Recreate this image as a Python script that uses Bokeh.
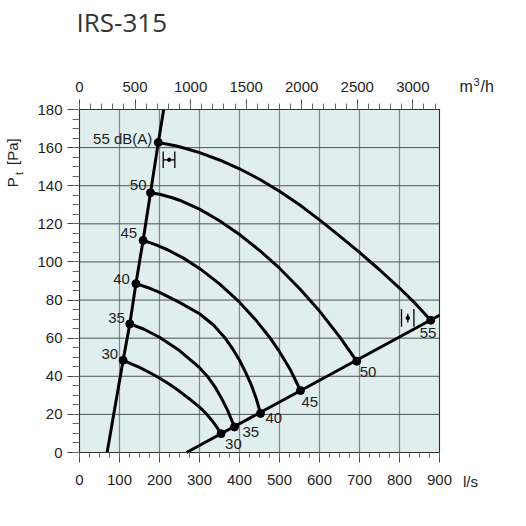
import math
from bokeh.plotting import figure
from bokeh.models import Range1d, LinearAxis, FixedTicker, Label, ColumnDataSource
from bokeh.embed import file_html
from bokeh.resources import INLINE
from bokeh.core.properties import value

# ---------------- data ----------------
title_text = "IRS-315"
levels = ["30", "35", "40", "45", "50", "55"]

q30 = [109, 150, 175, 200, 225, 250, 275, 300, 315, 330, 342, 354]
p30 = [48.4, 44.7, 42.0, 39.1, 35.8, 32.1, 28.1, 23.8, 20.8, 17.1, 13.7, 9.9]

q35 = [125.8, 160, 200, 250, 300, 320, 340, 355, 370, 387.5]
p35 = [67.5, 64.8, 60.5, 53.5, 44.5, 39.9, 34.0, 28.5, 22.2, 13.4]

q40 = [141, 170, 200, 250, 300, 335, 365, 385, 400, 415, 430, 442, 452.5]
p40 = [88.6, 86.6, 84.0, 78.8, 72.8, 66.9, 59.8, 53.7, 48.4, 42.2, 35.2, 28.2, 20.5]

q45 = [159, 190, 220, 260, 300, 350, 400, 440, 475, 500, 527.5, 552.5]
p45 = [111.3, 109.1, 106.4, 102.0, 96.6, 88.5, 78.9, 69.7, 60.5, 52.9, 43.3, 32.5]

q50 = [177.5, 200, 230, 250, 300, 350, 400, 450, 500, 550, 600, 650, 693]
p50 = [136.3, 135.5, 133.8, 132.4, 127.7, 121.6, 114.4, 106.1, 96.7, 86.1, 74.2, 60.8, 47.9]

q55 = [197, 240, 270, 300, 350, 400, 450, 500, 550, 600, 650, 700, 750, 800, 840, 878]
p55 = [162.7, 161.0, 159.3, 157.4, 153.5, 148.9, 143.4, 137.1, 130.0, 122.1, 113.7, 105.0, 95.9, 86.3, 78.1, 69.4]

curves_q = [q30, q35, q40, q45, q50, q55]
curves_p = [p30, p35, p40, p45, p50, p55]

sys_left_q = [69, 109, 125.8, 141, 159, 177.5, 197, 210.5]
sys_left_p = [0, 48.4, 67.5, 88.6, 111.3, 136.3, 162.7, 180]
sys_right_q = [267.5, 900]
sys_right_p = [0, 72]

x_ticks = [0, 100, 200, 300, 400, 500, 600, 700, 800, 900]
y_ticks = [0, 20, 40, 60, 80, 100, 120, 140, 160, 180]
top_ticks = [0, 500, 1000, 1500, 2000, 2500, 3000]
m3h_per_ls = 3.6

left_label_text = ["30", "35", "40", "45", "50", "55 dB(A)"]
left_dx = [-5, -5, -6, -6, -4, -6]
left_dy = [-6, -6, -5, -7, -8, -4]
right_dx = [4, 8, 5, 1, 3, -11]
right_dy = [10, 5, 5, 11, 11, 13]

FONT = "Liberation Sans"
BG = "#e1eeee"
TXT = "#1e1e1e"
W = H = 520

# pixel geometry of the chart area inside the canvas
PX_L, PX_R, PX_T, PX_B = 79.0, 439.0, 109.0, 452.0
xs = (PX_R - PX_L) / (x_ticks[-1] - x_ticks[0])
ys = (PX_B - PX_T) / (y_ticks[-1] - y_ticks[0])
x_rng = Range1d(-PX_L / xs, (W - PX_L) / xs)
y_rng = Range1d(-(H - PX_B) / ys, PX_B / ys)

p = figure(width=W, height=H, x_range=x_rng, y_range=y_rng,
           x_axis_type=None, y_axis_type=None,
           output_backend="svg", toolbar_location=None, min_border=0,
           background_fill_color="white", border_fill_color="white")
p.outline_line_color = None

# chart background and grid
p.quad(left=[x_ticks[0]], right=[x_ticks[-1]], bottom=[y_ticks[0]], top=[y_ticks[-1]],
       fill_color=BG, line_color=None)
p.segment(x0=x_ticks, y0=[y_ticks[0]] * len(x_ticks), x1=x_ticks, y1=[y_ticks[-1]] * len(x_ticks),
          line_color="#7c8888", line_width=1.2)
p.segment(x0=[x_ticks[0]] * len(y_ticks), y0=y_ticks, x1=[x_ticks[-1]] * len(y_ticks), y1=y_ticks,
          line_color="#4c5454", line_width=1)
p.quad(left=[x_ticks[0]], right=[x_ticks[-1]], bottom=[y_ticks[0]], top=[y_ticks[-1]],
       fill_color=None, line_color="#333333", line_width=1)

def style_axis(ax, major_out, minor_out, standoff):
    ax.major_tick_in = 0
    ax.minor_tick_in = 0
    ax.major_tick_out = major_out
    ax.minor_tick_out = minor_out
    ax.axis_line_color = "#333333"
    ax.major_tick_line_color = "#444444"
    ax.minor_tick_line_color = "#666666"
    ax.major_label_text_font = FONT
    ax.major_label_text_font_size = "15px"
    ax.major_label_text_color = TXT
    ax.major_label_standoff = standoff

bottom = LinearAxis(ticker=FixedTicker(ticks=x_ticks, minor_ticks=list(range(0, 901, 25))),
                    fixed_location=y_ticks[0], bounds=(x_ticks[0], x_ticks[-1]))
style_axis(bottom, 10, 5, 12)
p.add_layout(bottom, "below")

left = LinearAxis(ticker=FixedTicker(ticks=y_ticks, minor_ticks=list(range(0, 181, 5))),
                  fixed_location=x_ticks[0], bounds=(y_ticks[0], y_ticks[-1]))
style_axis(left, 12, 7, 5)
p.add_layout(left, "left")

p.extra_x_ranges = {"m3h": Range1d(x_rng.start * m3h_per_ls, x_rng.end * m3h_per_ls)}
top = LinearAxis(x_range_name="m3h",
                 ticker=FixedTicker(ticks=top_ticks, minor_ticks=list(range(0, 3201, 100))),
                 fixed_location=y_ticks[-1], bounds=(0, x_ticks[-1] * m3h_per_ls))
style_axis(top, 10, 6, 8)
p.add_layout(top, "above")

# system lines
p.line(sys_left_q, sys_left_p, line_color="black", line_width=3)
p.line(sys_right_q, sys_right_p, line_color="black", line_width=3)

# iso-dB curves
for q, pr in zip(curves_q, curves_p):
    p.line(q, pr, line_color="black", line_width=3, line_join="round")

start_q = [c[0] for c in curves_q]
start_p = [c[0] for c in curves_p]
end_q = [c[-1] for c in curves_q]
end_p = [c[-1] for c in curves_p]
p.scatter(start_q + end_q, start_p + end_p, size=8, color="black")

left_src = ColumnDataSource(dict(x=start_q, y=start_p, t=left_label_text, dx=left_dx, dy=left_dy))
p.text(x="x", y="y", text="t", x_offset="dx", y_offset="dy", source=left_src,
       text_font=value(FONT), text_font_size="15px", text_color=TXT,
       text_align="right", text_baseline="middle")

right_src = ColumnDataSource(dict(x=end_q, y=end_p, t=levels, dx=right_dx, dy=right_dy))
p.text(x="x", y="y", text="t", x_offset="dx", y_offset="dy", source=right_src,
       text_font=value(FONT), text_font_size="15px", text_color=TXT,
       text_align="left", text_baseline="middle")

# small tolerance markers
mk_x0 = [209.3, 238.3, 209.3, 805, 836, 820.8]
mk_y0 = [158.0, 158.0, 153.6, 75.3, 75.3, 72.8]
mk_x1 = [209.3, 238.3, 238.3, 805, 836, 820.8]
mk_y1 = [149.3, 149.3, 153.6, 66.0, 66.0, 68.2]
p.segment(mk_x0, mk_y0, mk_x1, mk_y1, line_color="black", line_width=1.3)
p.scatter([224.3, 820.8], [153.6, 70.6], size=3.5, color="black")

# title and unit texts (canvas pixel positions converted to data space)
def add_text(cx, cy, text, size="15px", angle=0.0, font=FONT, color=TXT):
    p.add_layout(Label(x=(cx - PX_L) / xs, y=(PX_B - cy) / ys, text=text, angle=angle,
                       text_font=font, text_font_size=size, text_color=color,
                       text_align="left", text_baseline="alphabetic"))

add_text(76, 21, title_text, size="26px", font="Open Sans", color="#333333")
add_text(11.5, 186.7, "P", angle=math.pi / 2)
add_text(18, 174.5, "t", size="11px", angle=math.pi / 2)
add_text(11.5, 164.5, "[Pa]", angle=math.pi / 2)
add_text(459, 86.3, "m", size="16px")
add_text(473, 81, "3", size="11px")
add_text(480, 86.3, "/h", size="16px")
add_text(462.5, 481, "l/s")

open("out.html", "w").write(file_html(p, INLINE))
